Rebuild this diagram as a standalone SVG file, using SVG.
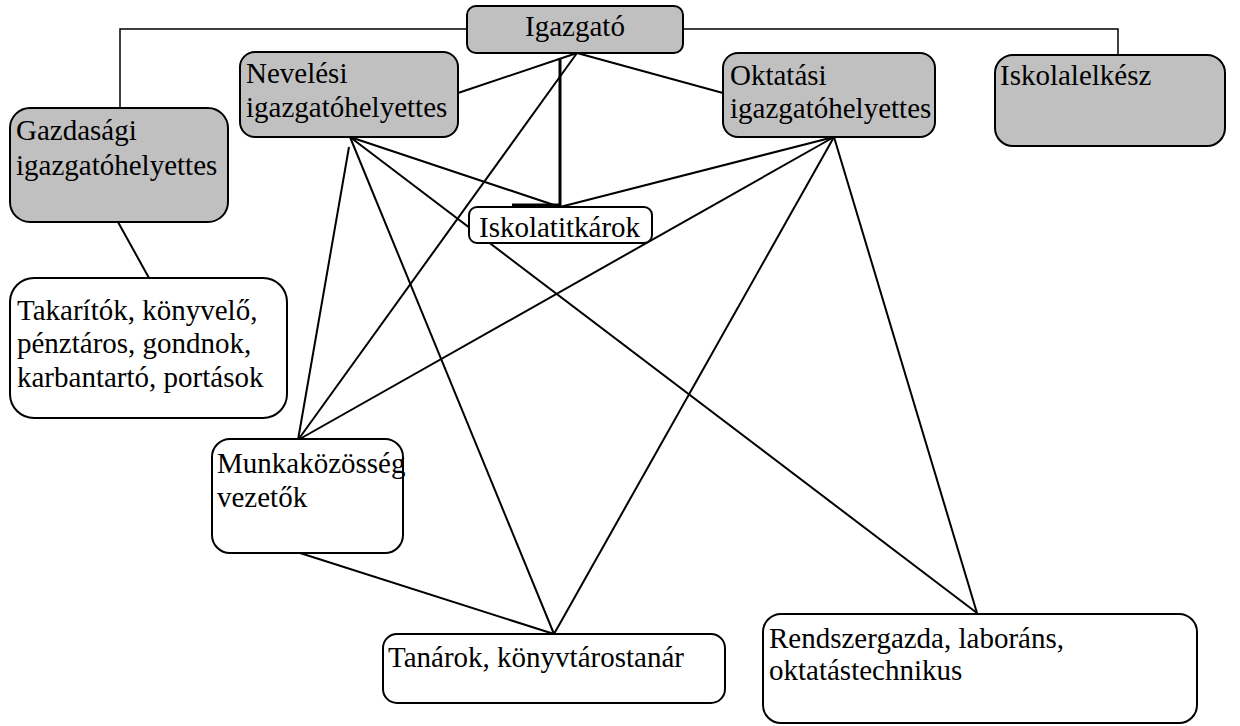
<svg xmlns="http://www.w3.org/2000/svg" width="1240" height="726" viewBox="0 0 1240 726">
<rect width="1240" height="726" fill="#fff"/>
<g id="connectors" stroke="#000" stroke-width="2" fill="none">
<polyline points="467,29 120,29 120,108" stroke-width="1.5"/>
<polyline points="683,29 1118,29 1118,55" stroke-width="1.5"/>
<line x1="458" y1="93" x2="577" y2="53"/>
<line x1="577" y1="53" x2="723" y2="93"/>
<line x1="577" y1="53" x2="298" y2="440"/>
<polyline points="560,58 560,205 512,205" stroke-width="3"/>
<line x1="350" y1="137" x2="560" y2="207"/>
<line x1="349" y1="147" x2="298" y2="440"/>
<line x1="350" y1="137" x2="554" y2="634"/>
<line x1="350" y1="137" x2="977" y2="613"/>
<line x1="834" y1="137" x2="560" y2="207"/>
<line x1="834" y1="137" x2="298" y2="440"/>
<line x1="834" y1="137" x2="554" y2="634"/>
<line x1="834" y1="137" x2="977" y2="613"/>
<line x1="300" y1="553" x2="554" y2="634"/>
<line x1="118" y1="222" x2="149" y2="278"/>
</g>
<g stroke="#000" stroke-width="2" fill="#c0c0c0">
<g id="igazgato"><rect x="467" y="6" width="216" height="47" rx="9"/></g>
<g id="neveles"><rect x="240" y="52" width="218" height="85" rx="15"/></g>
<g id="oktatasi"><rect x="723" y="53" width="212" height="84" rx="15"/></g>
<g id="iskolalelkesz"><rect x="995" y="55" width="230" height="91" rx="18"/></g>
<g id="gazdasagi"><rect x="10" y="108" width="218" height="114" rx="20"/></g>
</g>
<g stroke="#000" stroke-width="2" fill="#fff">
<g id="iskolatitkarok"><rect x="469" y="207" width="183" height="36" rx="8"/></g>
<g id="takaritok"><rect x="10" y="278" width="277" height="140" rx="24"/></g>
<g id="munkakozosseg"><rect x="212" y="439" width="191" height="114" rx="18"/></g>
<g id="tanarok"><rect x="383" y="634" width="342" height="69" rx="14"/></g>
<g id="rendszergazda"><rect x="763" y="614" width="434" height="109" rx="18"/></g>
</g>
<text font-family="Liberation Serif" font-size="29" x="575" y="36" text-anchor="middle">Igazgató</text>
<text font-family="Liberation Serif" font-size="29" x="246" y="83">Nevelési</text>
<text font-family="Liberation Serif" font-size="29" x="246" y="117">igazgatóhelyettes</text>
<text font-family="Liberation Serif" font-size="29" x="730" y="85">Oktatási</text>
<text font-family="Liberation Serif" font-size="29" x="730" y="118">igazgatóhelyettes</text>
<text font-family="Liberation Serif" font-size="29" x="1000" y="85">Iskolalelkész</text>
<text font-family="Liberation Serif" font-size="29" x="16" y="140">Gazdasági</text>
<text font-family="Liberation Serif" font-size="29" x="16" y="175">igazgatóhelyettes</text>
<text font-family="Liberation Serif" font-size="29" x="479" y="237">Iskolatitkárok</text>
<text font-family="Liberation Serif" font-size="29" x="17" y="320">Takarítók, könyvelő,</text>
<text font-family="Liberation Serif" font-size="29" x="17" y="353">pénztáros, gondnok,</text>
<text font-family="Liberation Serif" font-size="29" x="17" y="387">karbantartó, portások</text>
<text font-family="Liberation Serif" font-size="29" x="217" y="473">Munkaközösség</text>
<text font-family="Liberation Serif" font-size="29" x="217" y="507">vezetők</text>
<text font-family="Liberation Serif" font-size="29" x="388" y="667">Tanárok, könyvtárostanár</text>
<text font-family="Liberation Serif" font-size="29" x="769" y="648">Rendszergazda, laboráns,</text>
<text font-family="Liberation Serif" font-size="29" x="769" y="680">oktatástechnikus</text>
</svg>
